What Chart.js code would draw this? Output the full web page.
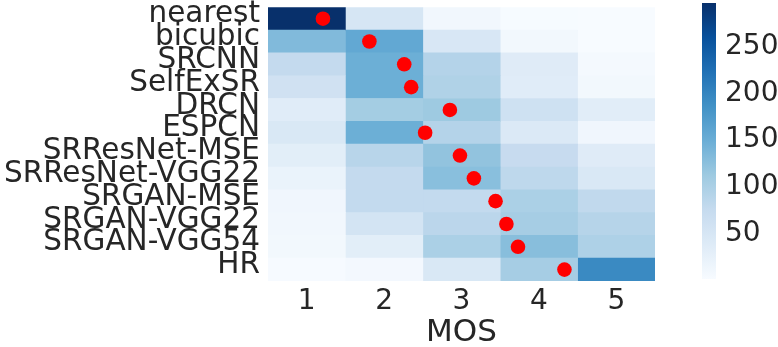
<!DOCTYPE html>
<html>
<head>
<meta charset="utf-8">
<script src="https://cdn.jsdelivr.net/npm/chart.js@4.4.1/dist/chart.umd.min.js"></script>
<style>
  html, body { margin: 0; padding: 0; background: #fff; }
  #wrap { position: relative; width: 778px; height: 347px; }
  #heatBox { position: absolute; left: 0; top: 0; width: 680px; height: 347px; }
  #barBox { position: absolute; left: 680px; top: 0; width: 98px; height: 347px; }
</style>
</head>
<body>
<div id="wrap">
  <div id="heatBox"><canvas id="heatmap"></canvas></div>
  <div id="barBox"><canvas id="colorbar"></canvas></div>
</div>
<script>
// === DATA ===
const methods = ["nearest", "bicubic", "SRCNN", "SelfExSR", "DRCN", "ESPCN",
  "SRResNet-MSE", "SRResNet-VGG22", "SRGAN-MSE", "SRGAN-VGG22", "SRGAN-VGG54", "HR"];
const mosScores = [1, 2, 3, 4, 5];

// number of ratings per score, one array per MOS column
const votes1 = [297, 133, 77, 60, 35, 45, 32, 20, 12, 10, 8, 3];
const votes2 = [50, 157, 148, 148, 106, 148, 88, 77, 78, 55, 32, 7];
const votes3 = [10, 47, 92, 95, 112, 92, 121, 127, 78, 85, 100, 45];
const votes4 = [2, 9, 37, 35, 62, 42, 74, 82, 100, 105, 128, 105];
const votes5 = [1, 1, 5, 8, 33, 12, 37, 45, 80, 90, 97, 195];

// mean opinion score (red dots)
const meanMOS = [1.21, 1.81, 2.26, 2.35, 2.85, 2.53, 2.98, 3.16, 3.44, 3.58, 3.73, 4.33];

const colorbarTicks = [50, 100, 150, 200, 250];

// === COLORMAP (matplotlib Blues) ===
const bluesStops = ["#f7fbff", "#deebf7", "#c6dbef", "#9ecae1", "#6baed6",
  "#4292c6", "#2171b5", "#08519c", "#08306b"];

const allVotes = [votes1, votes2, votes3, votes4, votes5];
const vmin = Math.min(...allVotes.flat());
const vmax = Math.max(...allVotes.flat());

function hexToRgb(h) {
  return [parseInt(h.slice(1, 3), 16), parseInt(h.slice(3, 5), 16), parseInt(h.slice(5, 7), 16)];
}

function blues(v) {
  let t = (v - vmin) / (vmax - vmin);
  t = Math.max(0, Math.min(1, t));
  const pos = t * (bluesStops.length - 1);
  const i = Math.min(Math.floor(pos), bluesStops.length - 2);
  const f = pos - i;
  const a = hexToRgb(bluesStops[i]);
  const b = hexToRgb(bluesStops[i + 1]);
  const c = a.map((x, k) => Math.round(x + (b[k] - x) * f));
  return `rgb(${c[0]},${c[1]},${c[2]})`;
}

Chart.defaults.font.family = "'DejaVu Sans'";
Chart.defaults.color = "#262626";

// === HEATMAP ===
const heatDatasets = allVotes.map((votes, c) => ({
  type: "bar",
  data: methods.map(() => [mosScores[c] - 0.5, mosScores[c] + 0.5]),
  backgroundColor: votes.map(blues),
  borderWidth: 0,
  grouped: false,
  categoryPercentage: 1,
  barPercentage: 1,
  order: 2
}));

heatDatasets.push({
  type: "scatter",
  data: methods.map((m, i) => ({ x: meanMOS[i], y: m })),
  backgroundColor: "#ff0000",
  borderWidth: 0,
  pointRadius: 7.3,
  xAxisID: "x",
  yAxisID: "y",
  order: 0
});

new Chart(document.getElementById("heatmap"), {
  type: "bar",
  data: { labels: methods, datasets: heatDatasets },
  options: {
    indexAxis: "y",
    responsive: true,
    maintainAspectRatio: false,
    animation: false,
    layout: { padding: { top: 2, right: 25, left: 0, bottom: 0 } },
    plugins: { legend: { display: false }, tooltip: { enabled: false } },
    scales: {
      x: {
        type: "linear",
        min: 0.5,
        max: 5.5,
        grid: { display: false, drawTicks: false },
        border: { display: false },
        afterBuildTicks: (s) => { s.ticks = mosScores.map((v) => ({ value: v })); },
        ticks: { font: { size: 28 }, padding: 4, color: "#262626" },
        title: { display: true, text: "MOS", font: { size: 31 }, padding: { top: 0, bottom: -5 }, color: "#262626" },
        afterFit: (s) => { s.height = 66; s.paddingLeft = 0; s.paddingRight = 0; }
      },
      y: {
        type: "category",
        labels: methods,
        offset: true,
        grid: { display: false, drawTicks: false },
        border: { display: false },
        ticks: { font: { size: 29.5 }, padding: 8, labelOffset: -4, autoSkip: false, color: "#262626" },
        afterFit: (s) => { s.width = 268; s.paddingTop = 0; s.paddingBottom = 0; }
      }
    }
  }
});

// === COLORBAR ===
new Chart(document.getElementById("colorbar"), {
  type: "bar",
  data: {
    labels: [""],
    datasets: [{
      data: [[vmin, vmax]],
      backgroundColor: (ctx) => {
        const area = ctx.chart.chartArea;
        if (!area) return bluesStops[4];
        const g = ctx.chart.ctx.createLinearGradient(0, area.bottom, 0, area.top);
        bluesStops.forEach((col, i) => g.addColorStop(i / (bluesStops.length - 1), col));
        return g;
      },
      borderWidth: 0,
      categoryPercentage: 1,
      barPercentage: 1
    }]
  },
  options: {
    responsive: true,
    maintainAspectRatio: false,
    animation: false,
    layout: { padding: { top: 3, bottom: 68, left: 22, right: 0 } },
    plugins: { legend: { display: false }, tooltip: { enabled: false } },
    scales: {
      x: { display: false },
      y: {
        position: "right",
        min: vmin,
        max: vmax,
        grid: { display: false, drawTicks: false },
        border: { display: false },
        afterBuildTicks: (s) => { s.ticks = colorbarTicks.map((v) => ({ value: v })); },
        ticks: { font: { size: 28 }, padding: 9, color: "#262626" },
        afterFit: (s) => { s.width = 62; s.paddingTop = 0; s.paddingBottom = 0; }
      }
    }
  }
});
</script>
</body>
</html>
